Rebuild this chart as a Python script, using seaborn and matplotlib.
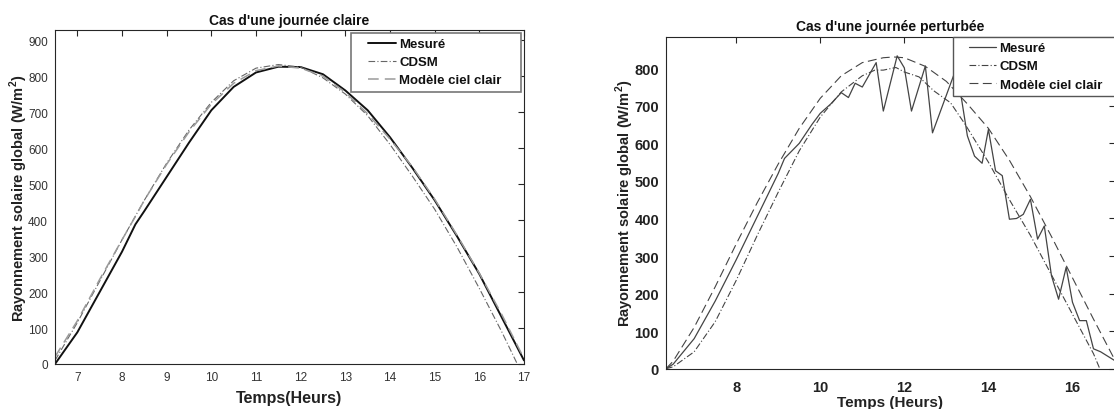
import numpy as np
import pandas as pd
import matplotlib
matplotlib.use("Agg")
import matplotlib.pyplot as plt
import seaborn as sns

# ---------------- data ----------------
# Left panel : clear day
left_t = [6.5, 7.0, 7.5, 8.0, 8.3, 8.5, 9.0, 9.5, 10.0, 10.5, 11.0, 11.5,
          12.0, 12.5, 13.0, 13.5, 14.0, 14.5, 15.0, 15.5, 16.0, 16.5, 17.0]
left_mesure = [0, 88, 200, 312, 388, 425, 520, 615, 705, 770, 810, 826,
               825, 805, 760, 705, 630, 545, 455, 355, 250, 130, 10]
left_clair = [20, 120, 235, 345, 410, 455, 555, 645, 722, 780, 815, 828,
              822, 800, 755, 695, 625, 548, 458, 358, 252, 138, 15]
left_t_cdsm = [6.5, 7.0, 7.5, 8.0, 8.5, 9.0, 9.5, 10.0, 10.5, 11.0, 11.5,
               12.0, 12.5, 13.0, 13.5, 14.0, 14.5, 15.0, 15.5, 16.0, 16.5, 16.85]
left_cdsm = [10, 115, 230, 345, 455, 558, 650, 727, 787, 822, 832,
             825, 795, 750, 690, 610, 522, 430, 325, 210, 90, 0]

# Right panel : disturbed day
right_t = [6.33, 6.5, 7.0, 7.5, 8.0, 8.5, 9.0, 9.5, 10.0, 10.5, 11.0, 11.5,
           11.75, 12.0, 12.5, 13.0, 13.5, 14.0, 14.5, 15.0, 15.5, 16.0, 16.5, 17.0]
right_clair = [0, 20, 110, 218, 332, 442, 545, 640, 720, 780, 815, 828,
               830, 828, 805, 765, 705, 640, 555, 458, 352, 242, 132, 25]
right_t_cdsm = [6.33, 6.5, 7.0, 7.5, 8.0, 8.5, 9.0, 9.5, 10.0, 10.5, 11.0,
                11.3, 11.5, 11.8, 12.0, 12.35, 12.7, 13.1, 13.45, 14.0, 14.5,
                15.0, 15.5, 16.0, 16.5, 16.65]
right_cdsm = [0, 5, 45, 125, 235, 355, 470, 580, 670, 737, 780,
              795, 795, 802, 790, 777, 740, 708, 650, 550, 450,
              355, 250, 145, 40, 0]
right_t_mes = [6.33, 6.5, 7.0, 7.5, 8.0, 8.5, 9.0, 9.15, 9.5, 9.8, 10.0, 10.25,
               10.5, 10.67, 10.83, 11.0, 11.33, 11.5, 11.83, 12.0, 12.17, 12.5,
               12.67, 13.17, 13.35, 13.5, 13.67, 13.85, 14.0, 14.17, 14.33, 14.5,
               14.67, 14.83, 15.0, 15.17, 15.33, 15.5, 15.67, 15.85, 16.0, 16.17,
               16.33, 16.5, 16.67, 17.0]
right_mes = [0, 12, 80, 180, 290, 405, 520, 560, 600, 650, 680, 705,
             735, 722, 760, 750, 815, 686, 833, 801, 686, 806,
             628, 780, 726, 620, 566, 547, 637, 527, 514, 398,
             400, 411, 451, 345, 380, 248, 185, 270, 177, 128,
             128, 53, 45, 22]

labels = ["Mesuré", "CDSM", "Modèle ciel clair"]
left_xticks = list(range(7, 18))
left_yticks = list(range(0, 1000, 100))
right_xticks = [8, 10, 12, 14, 16]
right_yticks = list(range(0, 900, 100))

# ---------------- style ----------------
sns.set_theme(style="white")
plt.rcParams["font.family"] = ["Liberation Sans", "DejaVu Sans"]
plt.rcParams["mathtext.fontset"] = "custom"
plt.rcParams["mathtext.rm"] = "Liberation Sans"
plt.rcParams["mathtext.bf"] = "Liberation Sans:bold"
plt.rcParams["axes.edgecolor"] = "#262626"
plt.rcParams["axes.linewidth"] = 0.8

W, H = 1114, 410
fig = plt.figure(figsize=(W / 100, H / 100), dpi=100)
axL = fig.add_axes([55 / W, (H - 365) / H, (524 - 55) / W, (365 - 31) / H])
axR = fig.add_axes([666 / W, (H - 369.7) / H, (1114.5 - 666) / W, (369.7 - 37.7) / H])


def shape_legend(leg, line_len_pt):
    """MATLAB-like legend: short handle lines with blank space on their left."""
    for ln in leg.get_lines():
        x = np.asarray(ln.get_xdata(), dtype=float)
        ln.set_xdata(np.linspace(x[-1] - line_len_pt, x[-1], len(x)))


# ---------------- left panel ----------------
dL1 = pd.DataFrame({"t": left_t, "v": left_mesure})
dL2 = pd.DataFrame({"t": left_t_cdsm, "v": left_cdsm})
dL3 = pd.DataFrame({"t": left_t, "v": left_clair})
sns.lineplot(data=dL1, x="t", y="v", ax=axL, color="#111111", lw=1.4,
             linestyle="-", label=labels[0])
sns.lineplot(data=dL2, x="t", y="v", ax=axL, color="#666666", lw=0.8,
             linestyle=(0, (6, 2, 1, 2)), label=labels[1])
sns.lineplot(data=dL3, x="t", y="v", ax=axL, color="#9a9a9a", lw=1.1,
             linestyle=(0, (7, 4)), label=labels[2] + "    ")
axL.set_xlim(6.5, 17)
axL.set_ylim(0, 928)
axL.set_xticks(left_xticks)
axL.set_yticks(left_yticks)
axL.tick_params(direction="in", top=True, right=True, length=4, width=0.8,
                labelsize=8.5, labelcolor="#333333", pad=5)
axL.set_title("Cas d'une journée claire", fontsize=10, fontweight="bold",
              pad=4.5, color="#111111")
axL.set_xlabel("Temps(Heurs)", fontsize=11.5, fontweight="bold", labelpad=5,
               color="#222222")
axL.set_ylabel(r"Rayonnement solaire global (W/m$^{\mathbf{2}}$)", fontsize=10.5,
               fontweight="bold", labelpad=-1, color="#222222")
legL = axL.legend(loc="upper right", prop={"weight": "bold", "size": 9.5},
                  frameon=True, fancybox=False, framealpha=1, edgecolor="#777777",
                  borderaxespad=0.2, handlelength=3.0, handletextpad=0.25,
                  labelspacing=0.45, borderpad=0.4)
legL.get_frame().set_linewidth(1.2)
shape_legend(legL, 20)
for txt in legL.get_texts():
    txt.set_color("#111111")

# ---------------- right panel ----------------
dR1 = pd.DataFrame({"t": right_t_mes, "v": right_mes})
dR2 = pd.DataFrame({"t": right_t_cdsm, "v": right_cdsm})
dR3 = pd.DataFrame({"t": right_t, "v": right_clair})
sns.lineplot(data=dR1, x="t", y="v", ax=axR, color="#444444", lw=0.9,
             linestyle="-", label=labels[0])
sns.lineplot(data=dR2, x="t", y="v", ax=axR, color="#444444", lw=0.8,
             linestyle=(0, (6, 2, 1, 2)), label=labels[1])
sns.lineplot(data=dR3, x="t", y="v", ax=axR, color="#444444", lw=0.8,
             linestyle=(0, (8, 4)), label=labels[2] + "  ")
axR.set_xlim(6.33, 17)
axR.set_ylim(0, 884)
axR.set_xticks(right_xticks)
axR.set_yticks(right_yticks)
axR.tick_params(direction="in", top=True, right=True, length=4, width=0.8,
                labelsize=10.5, labelcolor="#222222", pad=5)
axR.tick_params(axis="x", pad=8)
for lab in axR.get_xticklabels() + axR.get_yticklabels():
    lab.set_fontweight("bold")
axR.set_title("Cas d'une journée perturbée", fontsize=10, fontweight="bold",
              pad=5, color="#111111")
axR.set_xlabel("Temps (Heurs)", fontsize=11, fontweight="bold", labelpad=1,
               color="#222222")
axR.set_ylabel(r"Rayonnement solaire global (W/m$^{\mathbf{2}}$)", fontsize=10.5,
               fontweight="bold", labelpad=-1, color="#222222")
legR = axR.legend(loc="upper right", prop={"weight": "bold", "size": 9.5},
                  frameon=True, fancybox=False, framealpha=1, edgecolor="#555555",
                  borderaxespad=0.0, handlelength=2.9, handletextpad=0.25,
                  labelspacing=0.45, borderpad=0.4)
legR.get_frame().set_linewidth(1.0)
shape_legend(legR, 19.4)
for txt in legR.get_texts():
    txt.set_color("#111111")

fig.savefig("out.png", dpi=100, facecolor="white")
